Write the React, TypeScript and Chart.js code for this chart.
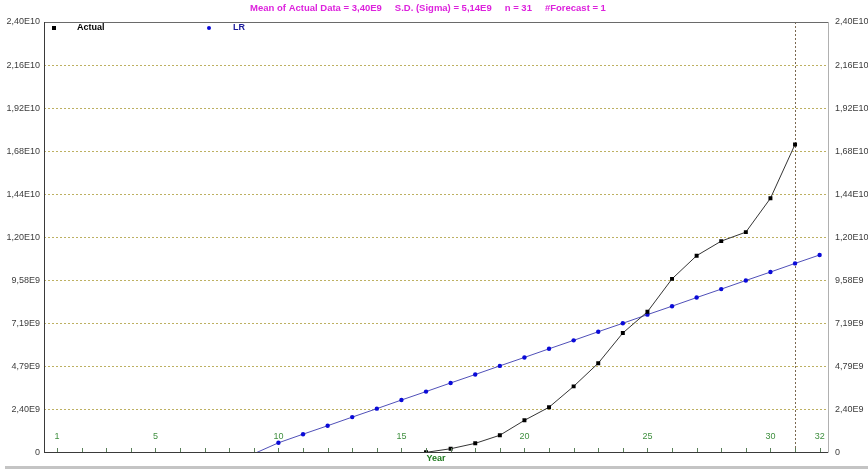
import React, { useEffect, useRef } from 'react';
import { Chart, registerables } from 'chart.js';

Chart.register(...registerables);

// Observation years (the last one is the forecast year)
const YEARS = [1, 2, 3, 4, 5, 6, 7, 8, 9, 10, 11, 12, 13, 14, 15, 16, 17, 18, 19, 20, 21, 22, 23, 24, 25, 26, 27, 28, 29, 30, 31, 32];

// Actual data (no value shown before year 16)
const ACTUAL: (number | null)[] = [
  null, null, null, null, null, null, null, null, null, null, null, null, null, null, null,
  0.02e9, 0.22e9, 0.52e9, 0.97e9, 1.8e9, 2.53e9, 3.69e9, 4.98e9, 6.66e9, 7.84e9,
  9.67e9, 10.96e9, 11.77e9, 12.27e9, 14.15e9, 17.15e9, null,
];

// Linear regression line (values below zero fall off the chart)
const LR: (number | null)[] = [
  null, null, null, null, null, null, null, null, -0.06e9,
  0.55e9, 1.03e9, 1.5e9, 1.98e9, 2.45e9, 2.93e9, 3.4e9, 3.88e9, 4.35e9, 4.83e9,
  5.3e9, 5.78e9, 6.25e9, 6.73e9, 7.2e9, 7.68e9, 8.15e9, 8.63e9, 9.1e9, 9.58e9,
  10.05e9, 10.53e9, 11.0e9,
];

const X_LABELED_YEARS = [1, 5, 10, 15, 20, 25, 30, 32];
const Y_STEP = 2.396e9;
const Y_STEP_COUNT = 10;
const FORECAST_FROM_YEAR = 31;
const STATS = ['Mean of Actual Data = 3,40E9', 'S.D. (Sigma) = 5,14E9', 'n = 31', '#Forecast = 1'];

const FONT = "'Liberation Sans', Arial, sans-serif";

function formatSci(v: number): string {
  if (Math.abs(v) < 1) return '0';
  const [m, e] = v.toExponential(2).split('e');
  return m.replace('.', ',') + 'E' + parseInt(e, 10);
}

const decorPlugin = {
  id: 'decor',
  beforeDatasetsDraw(chart: any) {
    const { ctx, chartArea, scales } = chart;
    const x = Math.round(scales.x.getPixelForValue(FORECAST_FROM_YEAR)) + 0.5;
    ctx.save();
    ctx.strokeStyle = '#7a6850';
    ctx.lineWidth = 1;
    ctx.setLineDash([2, 2]);
    ctx.beginPath();
    ctx.moveTo(x, chartArea.top);
    ctx.lineTo(x, chartArea.bottom);
    ctx.stroke();
    ctx.restore();
  },
  afterDatasetsDraw(chart: any) {
    const { ctx, chartArea, scales } = chart;
    const { left, right, top, bottom } = chartArea;
    ctx.save();
    // frame
    ctx.lineWidth = 1;
    ctx.strokeStyle = '#6a6a6a';
    ctx.beginPath();
    ctx.moveTo(left, Math.round(top) + 0.5);
    ctx.lineTo(right, Math.round(top) + 0.5);
    ctx.stroke();
    ctx.strokeStyle = '#b0b0b0';
    ctx.beginPath();
    ctx.moveTo(Math.round(right) + 0.5, top);
    ctx.lineTo(Math.round(right) + 0.5, bottom);
    ctx.stroke();
    ctx.strokeStyle = '#3a3a3a';
    ctx.beginPath();
    ctx.moveTo(Math.round(left) + 0.5, top);
    ctx.lineTo(Math.round(left) + 0.5, bottom);
    ctx.moveTo(left, Math.round(bottom) - 0.5);
    ctx.lineTo(right, Math.round(bottom) - 0.5);
    ctx.stroke();
    // year ticks pointing up from the axis
    ctx.strokeStyle = '#5a805a';
    ctx.beginPath();
    for (const yr of YEARS) {
      const px = Math.round(scales.x.getPixelForValue(yr)) + 0.5;
      ctx.moveTo(px, Math.round(bottom) - 1);
      ctx.lineTo(px, Math.round(bottom) - 5);
    }
    ctx.stroke();
    // year labels sit inside the plot, just above the axis
    ctx.font = `9px ${FONT}`;
    ctx.fillStyle = '#3f8f3f';
    ctx.textAlign = 'center';
    ctx.textBaseline = 'middle';
    for (const yr of X_LABELED_YEARS) {
      ctx.fillText(String(yr), scales.x.getPixelForValue(yr), bottom - 16);
    }

    // legend inside the plot
    const ly = top + 6;
    const ds = chart.data.datasets;
    ctx.font = `bold 9px ${FONT}`;
    ctx.textBaseline = 'middle';
    ctx.textAlign = 'left';
    ctx.fillStyle = ds[0].pointBackgroundColor;
    ctx.fillRect(left + 8, ly - 2, 4, 4);
    ctx.fillStyle = '#000000';
    ctx.fillText(ds[0].label, left + 33, ly);
    ctx.fillStyle = ds[1].pointBackgroundColor;
    ctx.beginPath();
    ctx.arc(left + 165, ly, 2, 0, Math.PI * 2);
    ctx.fill();
    ctx.fillStyle = '#1a1a9a';
    ctx.fillText(ds[1].label, left + 189, ly);

    // statistics header
    ctx.font = `bold 9.5px ${FONT}`;
    ctx.fillStyle = '#dd22dd';
    const gap = 13;
    const widths = STATS.map((s) => ctx.measureText(s).width);
    const total = widths.reduce((a, b) => a + b, 0) + gap * (STATS.length - 1);
    let sx = (left + right) / 2 - 8 - total / 2;
    STATS.forEach((s, i) => {
      ctx.fillText(s, sx, 8);
      sx += widths[i] + gap;
    });
    ctx.restore();
  },
};

const yTicks = (scale: any) => {
  scale.ticks = Array.from({ length: Y_STEP_COUNT + 1 }, (_, i) => ({ value: i * Y_STEP }));
};

export default function App() {
  const canvasRef = useRef<HTMLCanvasElement>(null);

  useEffect(() => {
    document.body.style.margin = '0';
    const canvas = canvasRef.current;
    if (!canvas) return;
    const chart = new Chart(canvas, {
      type: 'line',
      data: {
        datasets: [
          {
            label: 'Actual',
            data: YEARS.map((x, i) => ({ x, y: ACTUAL[i] })) as any,
            borderColor: '#353535',
            borderWidth: 1,
            pointStyle: 'rect',
            pointRadius: 2.8,
            pointBorderWidth: 0,
            pointBackgroundColor: '#000000',
            tension: 0,
          },
          {
            label: 'LR',
            data: YEARS.map((x, i) => ({ x, y: LR[i] })) as any,
            borderColor: '#5050b8',
            borderWidth: 1,
            pointStyle: 'circle',
            pointRadius: (c: any) => (c.raw && c.raw.y !== null && c.raw.y < 0 ? 0 : 2.2),
            pointBorderWidth: 0,
            pointBackgroundColor: '#0a0ad8',
            tension: 0,
          },
        ],
      },
      options: {
        responsive: false,
        animation: false,
        devicePixelRatio: 1,
        layout: { padding: { top: 22, left: 0, right: 0, bottom: 0 } },
        plugins: {
          legend: { display: false },
          title: { display: false },
          tooltip: { enabled: false },
        },
        scales: {
          x: {
            type: 'linear',
            min: 0.47,
            max: 32.34,
            afterBuildTicks: (s: any) => {
              s.ticks = YEARS.map((v) => ({ value: v }));
            },
            ticks: { display: false },
            grid: { display: false, drawTicks: false },
            border: { display: false },
            title: {
              display: true,
              text: 'Year',
              color: '#1f7a1f',
              font: { family: FONT, size: 9, weight: 'bold' },
              padding: { top: 0, bottom: 6 },
            },
            afterFit: (s: any) => {
              s.height = 17.3;
            },
          },
          y: {
            position: 'left',
            min: 0,
            max: Y_STEP * Y_STEP_COUNT,
            afterBuildTicks: yTicks,
            ticks: {
              padding: 4,
              color: '#3c3c3c',
              font: { family: FONT, size: 9 },
              callback: (v: any) => formatSci(Number(v)),
            },
            grid: { color: '#bdb062', lineWidth: 1, drawTicks: false },
            border: { display: false, dash: [2, 2] },
            afterFit: (s: any) => {
              s.width = 44;
            },
          },
          y2: {
            position: 'right',
            min: 0,
            max: Y_STEP * Y_STEP_COUNT,
            afterBuildTicks: yTicks,
            ticks: {
              padding: 7,
              color: '#3c3c3c',
              font: { family: FONT, size: 9 },
              callback: (v: any) => formatSci(Number(v)),
            },
            grid: { display: false, drawTicks: false },
            border: { display: false },
            afterFit: (s: any) => {
              s.width = 40;
            },
          },
        },
      } as any,
      plugins: [decorPlugin],
    });
    return () => chart.destroy();
  }, []);

  return (
    <div style={{ position: 'relative', width: 868, height: 470, overflow: 'hidden', background: '#ffffff' }}>
      <canvas ref={canvasRef} width={868} height={470} style={{ display: 'block', width: 868, height: 470 }} />
      <div style={{ position: 'absolute', left: 5, right: 0, top: 466, height: 3, background: '#c4c4c4' }} />
    </div>
  );
}
